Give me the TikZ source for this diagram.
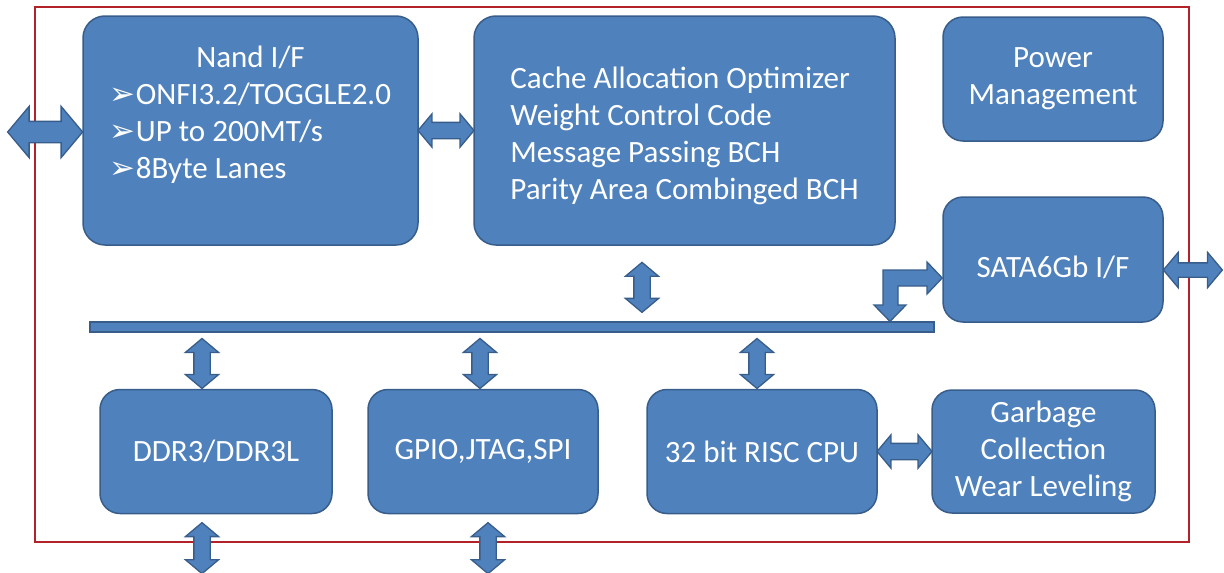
\documentclass[tikz,border=0pt]{standalone}
\usepackage{fontspec}
\setmainfont{Carlito}
\newfontfamily\symfont{DejaVu Sans}
\usetikzlibrary{shapes.arrows,calc}
\definecolor{boxfill}{RGB}{79,129,189}
\definecolor{boxline}{RGB}{56,93,138}
\definecolor{framered}{RGB}{178,34,40}
\newcommand{\bul}{{\symfont\char"27A2}}

\begin{document}
\begin{tikzpicture}[x=1pt,y=-1pt,
    block/.style={draw=boxline, fill=boxfill, line width=1.5pt, rounded corners=22pt,
        text=white, inner sep=0pt, font=\fontsize{31}{37}\selectfont},
    link/.style={double arrow, draw=boxline, fill=boxfill, line width=1.3pt, inner xsep=0pt,
        inner ysep=7.5pt, double arrow head extend=8.5pt, double arrow tip angle=100, sloped}]
    \useasboundingbox (0,0) rectangle (1224,573);
    \draw[framered, line width=2.6pt] (35,7) rectangle (1189,542);

    % upper row
    \node[block, minimum width=335pt, minimum height=229pt] (nand) at (250.5,130.5)
        {\begin{tabular}{@{}l@{}}\multicolumn{1}{@{}c@{}}{Nand I/F}\\ \bul ONFI3.2/TOGGLE2.0\\
        \bul UP to 200MT/s\\ \bul 8Byte Lanes\\[-7pt] \mbox{}\end{tabular}};
    \node[block, align=left, minimum width=421pt, minimum height=229pt] (cache) at (684.5,130.5)
        {\rule{0pt}{32pt}Cache Allocation Optimizer\\Weight Control Code\\Message Passing BCH\\Parity Area Combinged BCH};
    \node[block, align=center, rounded corners=20pt, minimum width=220pt, minimum height=124pt] (power) at (1053,79)
        {Power\\Management};
    \node[block, rounded corners=20pt, minimum width=220pt, minimum height=125pt] (sata) at (1053,259.5)
        {\rule{0pt}{38pt}SATA6Gb I/F};

    % bus
    \node[draw=boxline, fill=boxfill, line width=1.2pt, inner sep=0pt, minimum width=844pt, minimum height=10pt] (bus) at (512,327) {};

    % lower row
    \node[block, rounded corners=20pt, minimum width=232pt, minimum height=124pt] (ddr) at (216,451.5) {DDR3/DDR3L};
    \node[block, rounded corners=20pt, minimum width=230pt, minimum height=124pt] (gpio) at (483,451.5) {GPIO,JTAG,SPI};
    \node[block, rounded corners=20pt, minimum width=230pt, minimum height=124pt] (cpu) at (762,451.5) {32 bit RISC CPU};
    \node[block, align=center, rounded corners=20pt, minimum width=223pt, minimum height=123pt] (garbage) at (1043.5,451.5)
        {Garbage\\Collection\\Wear Leveling};

    % links
    \coordinate (host) at (8,132);
    \coordinate (drive) at (1222,270);
    \coordinate (busin) at (890,0);
    \coordinate (satain) at (0,278);
    \path (host) -- (nand.west |- host) node[link, midway, minimum height=75pt, inner ysep=10pt,
        double arrow head extend=15pt] (hostlink) {};
    \path (nand.east) -- (cache.west) node[link, midway, minimum height=56pt] (nandlink) {};
    \path ([xshift=-42.5pt]cache.south) -- ([xshift=-42.5pt]cache.south |- bus.north)
        node[link, pos=.55, minimum height=50pt] (cachelink) {};
    \path ([xshift=-14pt]ddr.north) -- ([xshift=-14pt]ddr.north |- bus.south)
        node[link, pos=.45, minimum height=50pt] (ddrlink) {};
    \path ([xshift=-3pt]gpio.north) -- ([xshift=-3pt]gpio.north |- bus.south)
        node[link, pos=.45, minimum height=50pt] (gpiolink) {};
    \path ([xshift=-5pt]cpu.north) -- ([xshift=-5pt]cpu.north |- bus.south)
        node[link, pos=.45, minimum height=50pt] (cpulink) {};
    \path ([xshift=-14pt]ddr.south) -- ++(0,59.5) node[link, pos=.57, minimum height=51pt] (ddrout) {};
    \path ([xshift=5pt]gpio.south) -- ++(0,59.5) node[link, pos=.57, minimum height=51pt] (gpioout) {};
    \path (cpu.east) -- (garbage.west) node[link, midway, minimum height=55pt] (cpulink2) {};
    \path (sata.east |- drive) -- (drive) node[link, midway, minimum height=59pt, inner ysep=6.5pt,
        double arrow head extend=10.5pt] (drivelink) {};

    % bent arrow bus -> sata
    \draw[boxline, fill=boxfill, line width=1.3pt] (883,305) -- (874,305) -- (busin |- bus.north) -- (906,305)
        -- (898,305) -- (898,286) -- (927,286) -- (927,294) -- (sata.west |- satain) -- (927,262)
        -- (927,270) -- (883,270) -- cycle;
\end{tikzpicture}
\end{document}
